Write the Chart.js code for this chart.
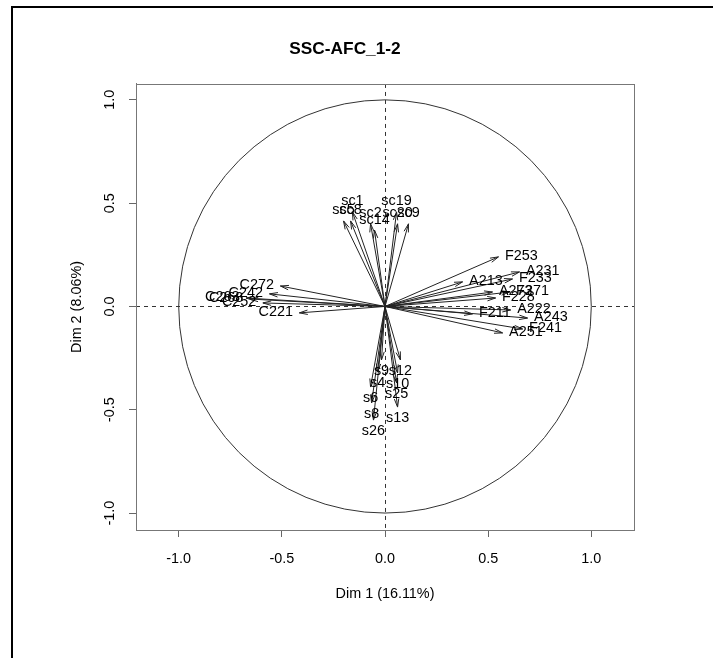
<!DOCTYPE html>
<html>
<head>
<meta charset="utf-8">
<title>SSC-AFC_1-2</title>
<script src="https://cdn.jsdelivr.net/npm/chart.js@4.4.1/dist/chart.umd.min.js"></script>
<style>
  html, body { margin: 0; padding: 0; background: #fff; }
  #wrap { position: relative; width: 713px; height: 658px; overflow: hidden; }
  #frame { position: absolute; left: 11px; top: 6px; right: -10px; bottom: -10px;
           border-left: 2px solid #000; border-top: 2px solid #000; }
  #c { position: absolute; left: 0; top: 0; }
</style>
</head>
<body>
<div id="wrap">
  <div id="frame"></div>
  <canvas id="c" width="713" height="658"></canvas>
</div>
<script>
// Variable coordinates on the first two factorial dimensions
const varNames = ['sc1', 'sc5', 'sc8', 'sc2', 'sc14', 'sc19', 'sc20', 'sc9',
  'C272', 'C242', 'C263', 'C268', 'C252', 'C221',
  'F253', 'A231', 'F233', 'A213', 'A273', 'F271', 'F228', 'F211', 'A222', 'A243', 'F241', 'A251',
  's9', 's12', 's4', 's10', 's6', 's25', 's8', 's13', 's26'];
const dim1 = [-0.158, -0.201, -0.167, -0.070, -0.051, 0.056, 0.061, 0.114,
  -0.507, -0.560, -0.674, -0.655, -0.592, -0.415,
  0.550, 0.652, 0.618, 0.376, 0.521, 0.604, 0.536, 0.424, 0.609, 0.691, 0.667, 0.570,
  -0.017, 0.075, -0.036, 0.061, -0.070, 0.056, -0.065, 0.061, -0.056];
const dim2 = [0.458, 0.414, 0.414, 0.400, 0.370, 0.458, 0.400, 0.400,
  0.099, 0.061, 0.041, 0.036, 0.017, -0.031,
  0.240, 0.167, 0.133, 0.119, 0.070, 0.070, 0.041, -0.036, -0.017, -0.056, -0.109, -0.128,
  -0.259, -0.259, -0.317, -0.322, -0.390, -0.370, -0.467, -0.487, -0.550];
const tickValues = [-1, -0.5, 0, 0.5, 1];

const FONT = '"Liberation Sans", Arial, Helvetica, sans-serif';
const points = varNames.map((n, i) => ({ x: dim1[i], y: dim2[i], label: n }));

// Correlation circle, dashed origin lines, plot box, arrows and labels
const circlePlugin = {
  id: 'correlationCircle',
  beforeDatasetsDraw(chart) {
    const { ctx, chartArea: a, scales: { x, y } } = chart;
    const cx = x.getPixelForValue(0), cy = y.getPixelForValue(0);
    const rx = x.getPixelForValue(1) - cx, ry = cy - y.getPixelForValue(1);
    ctx.save();
    ctx.beginPath();
    ctx.rect(a.left, a.top, a.right - a.left, a.bottom - a.top);
    ctx.clip();
    ctx.strokeStyle = '#333';
    ctx.lineWidth = 1;
    ctx.beginPath();
    ctx.ellipse(cx, cy, rx, ry, 0, 0, Math.PI * 2);
    ctx.stroke();
    ctx.setLineDash([4, 4]);
    ctx.beginPath();
    ctx.moveTo(a.left, Math.round(cy) + 0.5); ctx.lineTo(a.right, Math.round(cy) + 0.5);
    ctx.moveTo(Math.round(cx) + 0.5, a.top); ctx.lineTo(Math.round(cx) + 0.5, a.bottom);
    ctx.stroke();
    ctx.restore();
    ctx.save();
    ctx.strokeStyle = '#777';
    ctx.lineWidth = 1;
    ctx.strokeRect(Math.round(a.left) + 0.5, Math.round(a.top) + 0.5,
      Math.round(a.right - a.left), Math.round(a.bottom - a.top));
    ctx.restore();
  },
  afterDatasetsDraw(chart) {
    const { ctx, scales: { x, y } } = chart;
    const cx = x.getPixelForValue(0), cy = y.getPixelForValue(0);
    const head = 8.6, ang = 15 * Math.PI / 180;
    const fs = 14.4, capH = 0.716 * fs, off = 6.5;
    ctx.save();
    ctx.strokeStyle = '#222';
    ctx.lineWidth = 1;
    chart.data.datasets[0].data.forEach(p => {
      const px = x.getPixelForValue(p.x), py = y.getPixelForValue(p.y);
      const t = Math.atan2(py - cy, px - cx);
      ctx.beginPath();
      ctx.moveTo(cx, cy); ctx.lineTo(px, py);
      ctx.moveTo(px - head * Math.cos(t - ang), py - head * Math.sin(t - ang));
      ctx.lineTo(px, py);
      ctx.lineTo(px - head * Math.cos(t + ang), py - head * Math.sin(t + ang));
      ctx.stroke();
    });
    ctx.fillStyle = '#000';
    ctx.font = fs + 'px ' + FONT;
    ctx.textBaseline = 'alphabetic';
    chart.data.datasets[0].data.forEach(p => {
      const px = x.getPixelForValue(p.x), py = y.getPixelForValue(p.y);
      if (Math.abs(p.x) > Math.abs(p.y)) {
        ctx.textAlign = p.x >= 0 ? 'left' : 'right';
        ctx.fillText(p.label, p.x >= 0 ? px + off : px - off, py + capH / 3);
      } else if (p.y >= 0) {
        ctx.textAlign = 'center';
        ctx.fillText(p.label, px, py - off);
      } else {
        ctx.textAlign = 'center';
        ctx.fillText(p.label, px, py + off + capH * 0.833);
      }
    });
    ctx.restore();
  }
};

const tickFont = { family: FONT, size: 14.4, lineHeight: 1.2 };

new Chart(document.getElementById('c'), {
  type: 'scatter',
  data: {
    datasets: [{ data: points, pointRadius: 0, pointHoverRadius: 0, showLine: false }]
  },
  options: {
    responsive: false,
    animation: false,
    events: [],
    layout: { padding: { left: 56, right: 79, top: 0, bottom: 48 } },
    plugins: {
      legend: { display: false },
      tooltip: { enabled: false },
      title: {
        display: true,
        text: 'SSC-AFC_1-2',
        color: '#000',
        font: { family: FONT, size: 17.3, weight: 'bold', lineHeight: 1.2 },
        padding: { top: 38.6, bottom: 24.6 }
      }
    },
    scales: {
      x: {
        type: 'linear',
        position: 'bottom',
        min: -1.207,
        max: 1.207,
        afterFit(s) { s.height = 80; },
        afterBuildTicks(s) { s.ticks = tickValues.map(v => ({ value: v })); },
        ticks: {
          callback: v => Number(v).toFixed(1),
          padding: 13,
          color: '#000',
          font: tickFont,
          maxRotation: 0,
          autoSkip: false
        },
        grid: { drawOnChartArea: false, drawTicks: true, tickLength: 7, color: '#666' },
        border: { display: true, color: '#777' },
        title: {
          display: true,
          text: 'Dim 1 (16.11%)',
          color: '#000',
          font: tickFont,
          padding: { top: 0, bottom: 7.4 }
        }
      },
      y: {
        type: 'linear',
        position: 'left',
        min: -1.082,
        max: 1.077,
        afterFit(s) { s.width = 80; },
        afterBuildTicks(s) { s.ticks = tickValues.map(v => ({ value: v })); },
        ticks: {
          callback: v => Number(v).toFixed(1),
          padding: 6.6,
          color: '#000',
          font: tickFont,
          minRotation: 90,
          maxRotation: 90,
          crossAlign: 'center',
          autoSkip: false
        },
        grid: { drawOnChartArea: false, drawTicks: true, tickLength: 7, color: '#666' },
        border: { display: true, color: '#777' },
        title: {
          display: true,
          text: 'Dim 2 (8.06%)',
          color: '#000',
          font: tickFont,
          padding: { top: 12.4, bottom: 0 }
        }
      }
    }
  },
  plugins: [circlePlugin]
});
</script>
</body>
</html>
